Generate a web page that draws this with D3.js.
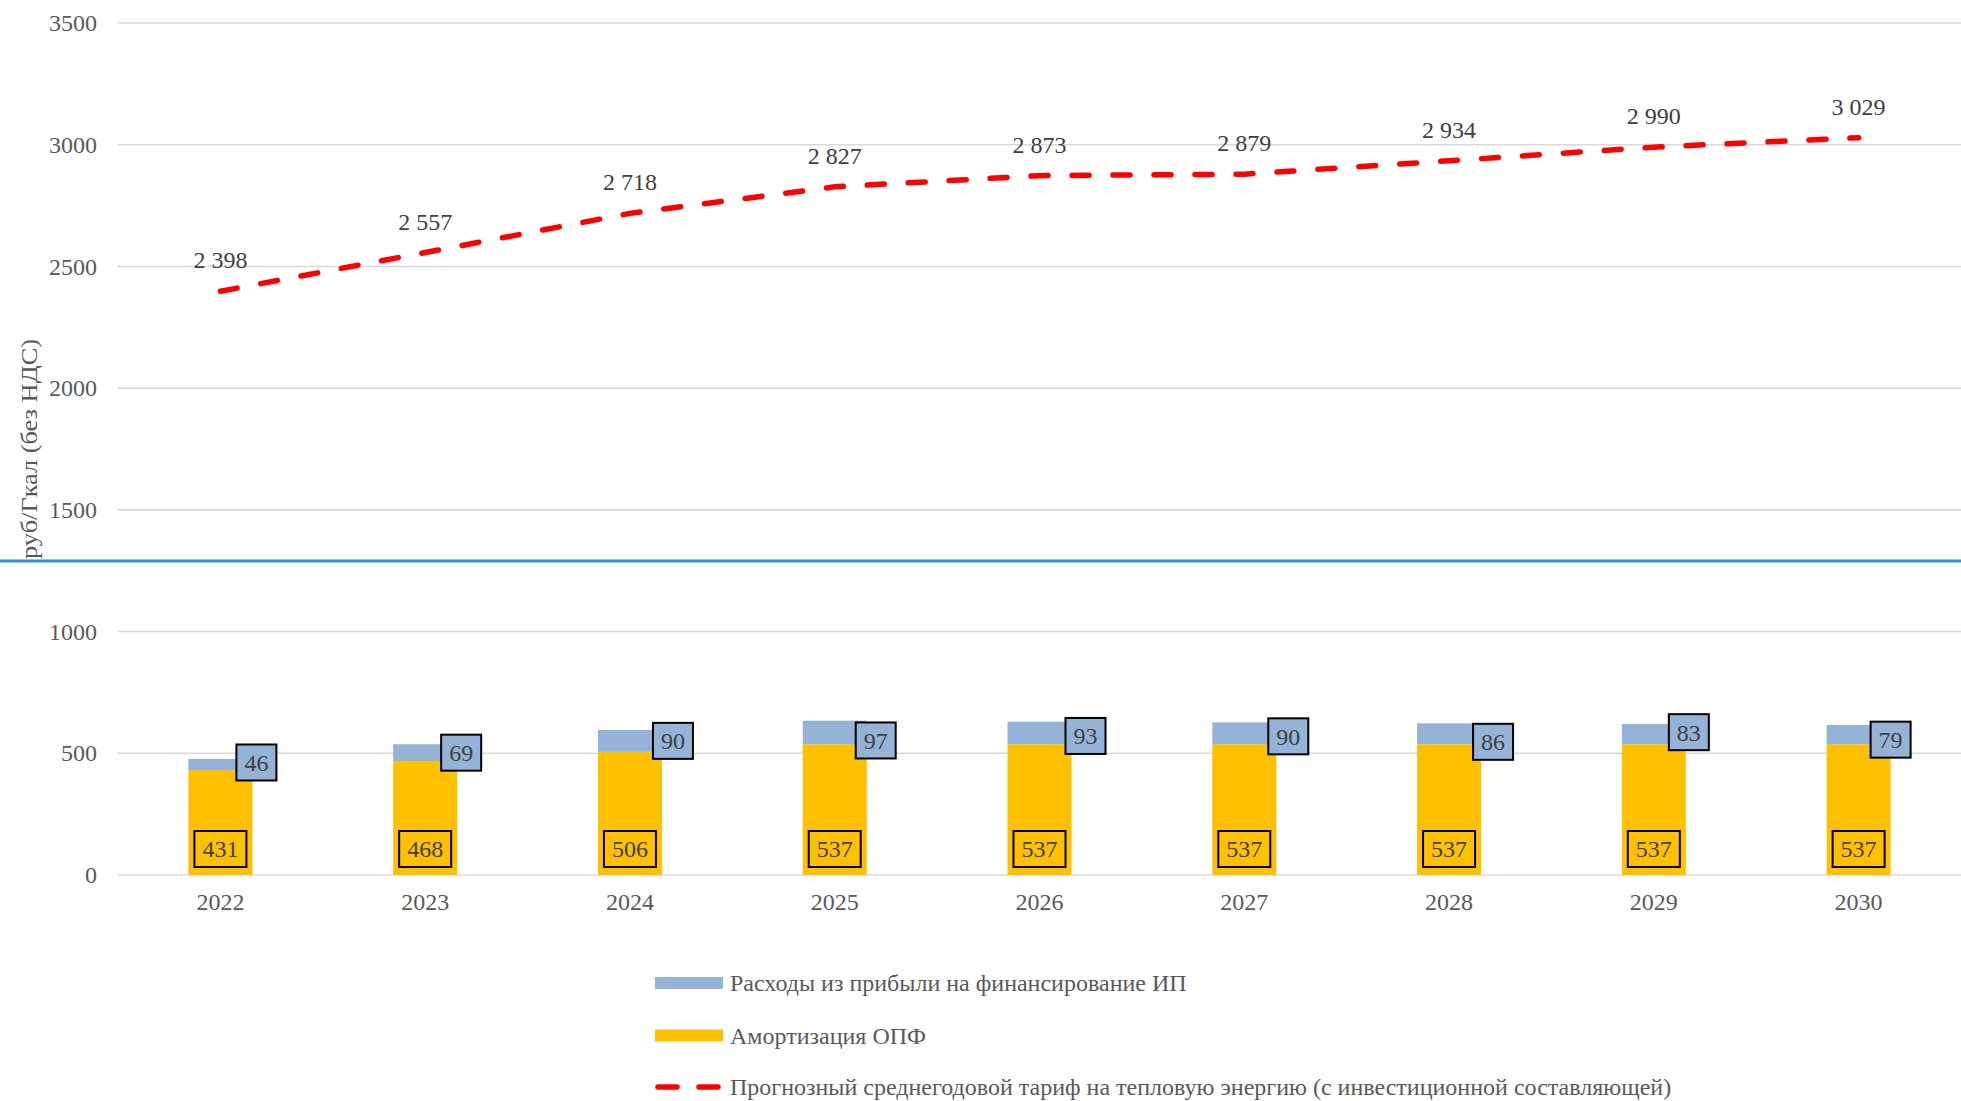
<!DOCTYPE html>
<html>
<head>
<meta charset="utf-8">
<script src="https://cdn.jsdelivr.net/npm/d3@7"></script>
<style>
  html, body { margin: 0; padding: 0; background: #fff; }
  svg { display: block; font-family: "Liberation Serif", "Times New Roman", serif; }
</style>
</head>
<body>
<svg id="chart" width="1961" height="1101"></svg>
<script>
// Years on the horizontal axis
const years = ["2022", "2023", "2024", "2025", "2026", "2027", "2028", "2029", "2030"];
// Амортизация ОПФ, руб/Гкал
const depreciation = [431, 468, 506, 537, 537, 537, 537, 537, 537];
// Расходы из прибыли на финансирование ИП, руб/Гкал
const profitInvest = [46, 69, 90, 97, 93, 90, 86, 83, 79];
// Прогнозный среднегодовой тариф, руб/Гкал
const tariff = [2398, 2557, 2718, 2827, 2873, 2879, 2934, 2990, 3029];
// Value ticks on the vertical axis
const yTicks = [0, 500, 1000, 1500, 2000, 2500, 3000, 3500];
// Level of the horizontal separator line
const separatorValue = 1290;

const legendLabels = [
  "Расходы из прибыли на финансирование ИП",
  "Амортизация ОПФ",
  "Прогнозный среднегодовой тариф на тепловую энергию (с инвестиционной составляющей)"
];

// Small hand placement offsets for the profit labels (px)
const profitLabelDx = [36, 36, 43, 41, 46, 44, 44, 35, 32];
const profitLabelDy = [-2, 0, 0, 8, 3, 3, 8, -2, 5];

const colors = {
  profit: "#95B3D7",
  depr: "#FFC000",
  line: "#FF0000",
  grid: "#D9D9D9",
  axisText: "#595959",
  label: "#404040",
  separator: "#2F8FD3"
};

const W = 1961, H = 1101;
const svg = d3.select("#chart");

const x = d3.scaleBand()
  .domain(years)
  .range([118, 1961])
  .paddingInner(0.6875)
  .paddingOuter(0.34375);

const y = d3.scaleLinear().domain([0, 3500]).range([875, 23]);

const cx = d => x(d) + x.bandwidth() / 2;

// Gridlines
svg.append("g")
  .selectAll("line")
  .data(yTicks)
  .join("line")
  .attr("x1", 118).attr("x2", W)
  .attr("y1", d => y(d)).attr("y2", d => y(d))
  .attr("stroke", colors.grid)
  .attr("stroke-width", 1.6);

// Y axis labels
const yAxis = d3.axisLeft(y).tickValues(yTicks).tickSize(0).tickPadding(0).tickFormat(d3.format("d"));
const gy = svg.append("g").attr("transform", "translate(97,0)").call(yAxis);
gy.select(".domain").remove();
gy.selectAll("text")
  .attr("font-family", "Liberation Serif, Times New Roman, serif")
  .attr("font-size", 24)
  .attr("fill", colors.axisText);

// X axis labels
const xAxis = d3.axisBottom(x).tickSize(0).tickPadding(0);
const gx = svg.append("g").attr("transform", "translate(0,893)").call(xAxis);
gx.select(".domain").remove();
gx.selectAll("text")
  .attr("font-family", "Liberation Serif, Times New Roman, serif")
  .attr("font-size", 24)
  .attr("fill", colors.axisText)
  .attr("dy", "0.71em");

// Y axis title (slightly stretched along its length)
svg.append("text")
  .attr("transform", `translate(36.5,${(y(0) + y(3500)) / 2}) rotate(-90)`)
  .attr("text-anchor", "middle")
  .attr("font-size", 24)
  .attr("fill", colors.axisText)
  .attr("textLength", 220)
  .attr("lengthAdjust", "spacingAndGlyphs")
  .text("руб/Гкал (без НДС)");

// Stacked bars
const rows = years.map((yr, i) => ({ yr, i, depr: depreciation[i], profit: profitInvest[i] }));

svg.append("g").selectAll("rect")
  .data(rows)
  .join("rect")
  .attr("x", d => x(d.yr))
  .attr("width", x.bandwidth())
  .attr("y", d => y(d.depr))
  .attr("height", d => y(0) - y(d.depr))
  .attr("fill", colors.depr);

svg.append("g").selectAll("rect")
  .data(rows)
  .join("rect")
  .attr("x", d => x(d.yr))
  .attr("width", x.bandwidth())
  .attr("y", d => y(d.depr + d.profit))
  .attr("height", d => y(d.depr) - y(d.depr + d.profit))
  .attr("fill", colors.profit);

// Boxed value labels
function boxedLabel(g, text, px, py, fill) {
  const grp = g.append("g");
  const rect = grp.append("rect");
  const t = grp.append("text")
    .attr("x", px).attr("y", py)
    .attr("text-anchor", "middle")
    .attr("dy", "0.35em")
    .attr("font-size", 24)
    .attr("fill", colors.label)
    .text(text);
  const w = t.node().getComputedTextLength() + 16;
  const h = 36;
  rect.attr("x", px - w / 2).attr("y", py - h / 2)
    .attr("width", w).attr("height", h)
    .attr("fill", fill)
    .attr("stroke", "#000")
    .attr("stroke-width", 2);
}

const labelsG = svg.append("g");
rows.forEach(d => {
  boxedLabel(labelsG, String(d.depr), cx(d.yr), y(0) - 26, colors.depr);
  const mid = (y(d.depr) + y(d.depr + d.profit)) / 2;
  boxedLabel(labelsG, String(d.profit), cx(d.yr) + profitLabelDx[d.i], mid + profitLabelDy[d.i], colors.profit);
});

// Tariff line
const line = d3.line().x((d, i) => cx(years[i])).y(d => y(d));
svg.append("path")
  .datum(tariff)
  .attr("d", line)
  .attr("fill", "none")
  .attr("stroke", colors.line)
  .attr("stroke-width", 5.5)
  .attr("stroke-linecap", "round")
  .attr("stroke-dasharray", "17,24");

const fmt = d3.formatLocale({ decimal: ",", thousands: " ", grouping: [3], currency: ["", ""] }).format(",d");
svg.append("g").selectAll("text")
  .data(tariff)
  .join("text")
  .attr("x", (d, i) => cx(years[i]))
  .attr("y", d => y(d) - 23)
  .attr("text-anchor", "middle")
  .attr("font-size", 24)
  .attr("fill", colors.label)
  .text(d => fmt(d));

// Separator line
svg.append("line")
  .attr("x1", 0).attr("x2", W)
  .attr("y1", y(separatorValue)).attr("y2", y(separatorValue))
  .attr("stroke", colors.separator)
  .attr("stroke-width", 3);

// Legend
const legend = svg.append("g");
const legendY = [983, 1035.5, 1087];
legendLabels.forEach((lab, i) => {
  const ly = legendY[i];
  if (i < 2) {
    legend.append("rect")
      .attr("x", 655).attr("y", ly - 6)
      .attr("width", 68).attr("height", 12)
      .attr("fill", i === 0 ? colors.profit : colors.depr);
  } else {
    legend.append("line")
      .attr("x1", 658).attr("x2", 720)
      .attr("y1", ly).attr("y2", ly)
      .attr("stroke", colors.line)
      .attr("stroke-width", 5.5)
      .attr("stroke-linecap", "round")
      .attr("stroke-dasharray", "19,22");
  }
  legend.append("text")
    .attr("x", 730).attr("y", ly)
    .attr("dy", "0.35em")
    .attr("font-size", 24)
    .attr("fill", colors.axisText)
    .text(lab);
});
</script>
</body>
</html>
